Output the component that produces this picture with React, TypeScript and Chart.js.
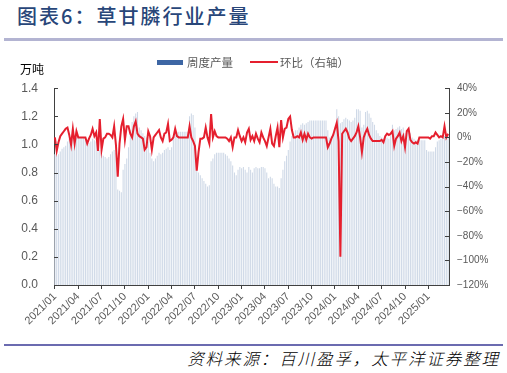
import React, { useEffect, useRef } from "react";
import { Chart, registerables } from "chart.js";

Chart.register(...registerables);

const startDate = "2021-01-08";
const tickStep = 13;

const output: number[] = [
  0.93, 0.92, 0.93, 0.95, 0.97, 0.98, 0.99, 1.02, 1.04, 1.05,
  1.05, 1.05, 1.05, 1.05, 1.05, 1.05, 1.05, 1.05, 1.02, 1.01,
  1.02, 1.04, 1.03, 1.02, 0.97, 0.96, 0.93, 0.92, 0.91, 0.90,
  0.91, 0.93, 0.95, 0.96, 0.94, 0.68, 0.67, 0.66, 0.82, 0.86,
  0.90, 0.98, 1.10, 1.16, 1.20, 1.22, 1.23, 1.12, 1.10, 1.08,
  1.06, 1.05, 1.02, 0.94, 0.90, 0.88, 0.90, 0.92, 0.94, 0.93,
  0.94, 0.96, 0.97, 0.98, 0.96, 0.98, 1.06, 1.09, 1.09, 1.09,
  1.09, 1.09, 1.09, 1.09, 1.09, 1.20, 1.22, 1.21, 1.12, 0.84,
  0.80, 0.78, 0.76, 0.74, 0.72, 0.70, 0.71, 0.88, 0.90, 0.93,
  0.94, 0.94, 0.94, 0.94, 0.94, 0.93, 0.92, 0.90, 0.88, 0.85,
  0.80, 0.78, 0.82, 0.84, 0.83, 0.84, 0.82, 0.80, 0.84, 0.82,
  0.80, 0.83, 0.84, 0.83, 0.83, 0.84, 0.84, 0.83, 0.80, 0.76,
  0.77, 0.76, 0.72, 0.70, 0.70, 0.69, 0.76, 0.82, 0.88, 0.92,
  0.96, 1.02, 1.06, 1.08, 1.10, 1.10, 1.12, 1.14, 1.15, 1.14,
  1.15, 1.16, 1.17, 1.17, 1.17, 1.17, 1.17, 1.17, 1.17, 1.17,
  1.17, 1.17, 1.10, 1.05, 1.06, 1.08, 1.12, 1.25, 1.20, 1.15,
  1.16, 1.18, 1.19, 1.18, 1.17, 1.16, 1.17, 1.19, 1.25, 1.25,
  1.24, 1.12, 1.14, 1.23, 1.24, 1.22, 1.19, 1.16, 1.14, 1.10,
  1.08, 1.06, 1.05, 1.04, 1.04, 1.05, 1.04, 1.08, 1.14, 1.10,
  1.11, 1.12, 1.13, 1.11, 1.12, 1.08, 1.10, 1.12, 1.08, 1.05,
  1.04, 1.03, 1.03, 1.03, 1.03, 1.03, 1.03, 0.96, 0.95, 0.95,
  0.95, 0.95, 0.98, 1.02, 1.03, 1.04, 1.05, 1.06, 1.06, 1.07,
];

const wowChange: number[] = [
  0, -11, -4, 1, 3, 5, 7, 8, 2, -6,
  7, -5, 5, 0, 0, 0, 0, 0, -5, -1,
  2, 7, 1, 4, -11, 15, -10, -1, 0, 3,
  3, 2, 0, 9, -6, -32, -5, 9, 15, -2,
  9, 9, 3, 0, 9, 13, 3, 1, 0, -1,
  -10, -8, 5, 1, -10, 0, 2, 4, 6, 0,
  -3, 3, 4, 11, -3, -2, 0, 7, 1, 0,
  0, 0, 0, 0, 0, 9, 0, -3, -7, -27,
  -12, -1, -1, 0, 8, 0, -5, 19, 0, 5,
  1, 0, 0, 0, 0, 0, -1, -3, 0, -8,
  0, 0, 6, 1, -3, 0, -4, 4, 7, -2,
  1, -3, 3, -1, -4, 4, 0, -3, -7, 0,
  7, -5, -7, 1, 8, -8, 14, 0, 7, 8,
  15, 17, 6, 0, 0, 1, 0, 4, -2, 3,
  -2, 3, 0, -1, 0, 0, 0, 0, 0, 0,
  0, 0, -8, -5, -1, 2, 7, 12, -3, -97,
  3, 5, 7, 4, -1, -3, -1, 1, 4, 9,
  0, -12, 0, 4, 7, 2, -1, -3, -3, -3,
  -3, -3, -2, -4, 1, 3, 2, 3, 5, -7,
  -1, 1, 4, -3, 1, -8, 5, 7, -2, -4,
  -5, -4, -5, 0, 0, 0, 0, 0, 0, -1,
  1, 1, 4, 2, 0, 1, 0, 9, 0, 3,
];

function weekLabels(n: number): string[] {
  const out: string[] = [];
  const d0 = new Date(startDate + "T00:00:00Z").getTime();
  for (let i = 0; i < n; i++) {
    const d = new Date(d0 + i * 7 * 86400000);
    const m = d.getUTCMonth() + 1;
    out.push(d.getUTCFullYear() + "/" + (m < 10 ? "0" + m : "" + m));
  }
  return out;
}

const categories = weekLabels(output.length);

const AXIS = "#404040";
const TICK_TEXT = "#595959";
const BAR = "#cfd9e7";
const RED = "#e51f2e";
const CJK = '"Noto Sans CJK SC", sans-serif';

const inwardTicks = {
  id: "inwardTicks",
  afterDraw(chart: any) {
    const ctx = chart.ctx;
    const y = chart.scales.y;
    const y1 = chart.scales.y1;
    ctx.save();
    ctx.strokeStyle = AXIS;
    ctx.lineWidth = 1;
    y.ticks.forEach((_t: any, i: number) => {
      const py = Math.round(y.getPixelForTick(i)) + 0.5;
      ctx.beginPath();
      ctx.moveTo(y.right, py);
      ctx.lineTo(y.right + 4, py);
      ctx.stroke();
    });
    y1.ticks.forEach((_t: any, i: number) => {
      const py = Math.round(y1.getPixelForTick(i)) + 0.5;
      ctx.beginPath();
      ctx.moveTo(y1.left, py);
      ctx.lineTo(y1.left - 4, py);
      ctx.stroke();
    });
    ctx.restore();
  },
};

function ChartBox() {
  const ref = useRef<HTMLCanvasElement>(null);
  useEffect(() => {
    if (!ref.current) return;
    const chart = new Chart(ref.current, {
      data: {
        labels: categories,
        datasets: [
          {
            type: "line",
            label: "环比（右轴）",
            data: wowChange,
            yAxisID: "y1",
            borderColor: RED,
            backgroundColor: RED,
            borderWidth: 2,
            pointRadius: 0,
            tension: 0,
            order: 0,
          },
          {
            type: "bar",
            label: "周度产量",
            data: output,
            yAxisID: "y",
            backgroundColor: BAR,
            barPercentage: 0.6,
            categoryPercentage: 1,
            order: 1,
          },
        ],
      } as any,
      options: {
        animation: false,
        responsive: false,
        layout: { padding: { top: 3, left: 0, right: 0, bottom: 0 } },
        plugins: { legend: { display: false }, tooltip: { enabled: false } },
        scales: {
          x: {
            offset: true,
            grid: {
              display: true,
              drawOnChartArea: false,
              drawTicks: true,
              tickLength: 4,
              color: AXIS,
              offset: false,
            },
            border: { color: AXIS, width: 1 },
            afterBuildTicks: (scale: any) => {
              scale.ticks = scale.ticks.filter((t: any) => t.value % tickStep === 0);
            },
            afterFit: (scale: any) => {
              scale.height = 58;
            },
            ticks: {
              autoSkip: false,
              maxRotation: 45,
              minRotation: 45,
              padding: 1,
              color: TICK_TEXT,
              font: { size: 11, family: "Liberation Sans, Arial, sans-serif" },
              callback: function (this: any, value: any) {
                return this.getLabelForValue(value);
              },
            },
          },
          y: {
            position: "left",
            min: 0,
            max: 1.4,
            grid: { display: false, drawTicks: false },
            border: { color: AXIS, width: 1 },
            afterFit: (scale: any) => {
              scale.width = 54;
            },
            ticks: {
              stepSize: 0.2,
              padding: 16,
              color: TICK_TEXT,
              font: { size: 12, family: "Liberation Sans, Arial, sans-serif" },
              callback: (v: any) => Number(v).toFixed(1),
            },
          },
          y1: {
            position: "right",
            min: -120,
            max: 40,
            grid: { display: false, drawTicks: false },
            border: { color: AXIS, width: 1 },
            afterFit: (scale: any) => {
              scale.width = 58;
            },
            ticks: {
              stepSize: 20,
              padding: 8,
              color: TICK_TEXT,
              font: { size: 10, family: "Liberation Sans, Arial, sans-serif" },
              callback: (v: any) => {
                const n = Number(v);
                return (n < 0 ? "\u2212" + Math.abs(n) : "" + n) + "%";
              },
            },
          },
        },
      } as any,
      plugins: [inwardTicks],
    });
    return () => chart.destroy();
  }, []);
  return <canvas ref={ref} width={507} height={278} style={{ display: "block" }} />;
}

export default function App() {
  return (
    <div
      style={{
        position: "fixed",
        left: 0,
        top: 0,
        width: 507,
        height: 373,
        background: "#fff",
        overflow: "hidden",
      }}
    >
      <div
        style={{
          position: "absolute",
          left: 17,
          top: 3,
          fontFamily: CJK,
          fontSize: 20,
          letterSpacing: 2,
          color: "#284679",
          fontWeight: 500,
          whiteSpace: "nowrap",
          lineHeight: "26px",
        }}
      >
        图表6：草甘膦行业产量
      </div>
      <div
        style={{
          position: "absolute",
          left: 4,
          width: 499,
          top: 38,
          height: 3,
          background: "#b3b4d2",
        }}
      />
      <div style={{ position: "absolute", left: 0, top: 65 }}>
        <ChartBox />
      </div>
      <div
        style={{
          position: "absolute",
          left: 20,
          top: 62,
          fontFamily: CJK,
          fontSize: 12,
          color: "#000",
          lineHeight: "14px",
        }}
      >
        万吨
      </div>
      <div
        style={{
          position: "absolute",
          left: 157,
          top: 54,
          height: 16,
          display: "flex",
          alignItems: "center",
          fontFamily: CJK,
          fontSize: 11.5,
          color: "#595959",
          whiteSpace: "nowrap",
        }}
      >
        <span style={{ display: "inline-block", width: 26, height: 5, background: "#3d66a4", marginRight: 4 }} />
        <span>周度产量</span>
        <span style={{ display: "inline-block", width: 28, height: 2, background: RED, marginLeft: 17, marginRight: 2 }} />
        <span>环比（右轴）</span>
      </div>
      <div
        style={{
          position: "absolute",
          left: 4,
          width: 499,
          top: 344,
          height: 1.5,
          background: "#6b6bb0",
        }}
      />
      <div
        style={{
          position: "absolute",
          right: 7,
          top: 347,
          fontFamily: CJK,
          fontSize: 16.5,
          fontStyle: "italic",
          fontWeight: 300,
          letterSpacing: 1.9,
          color: "#000",
          whiteSpace: "nowrap",
          lineHeight: "22px",
        }}
      >
        资料来源：百川盈孚，太平洋证券整理
      </div>
    </div>
  );
}
